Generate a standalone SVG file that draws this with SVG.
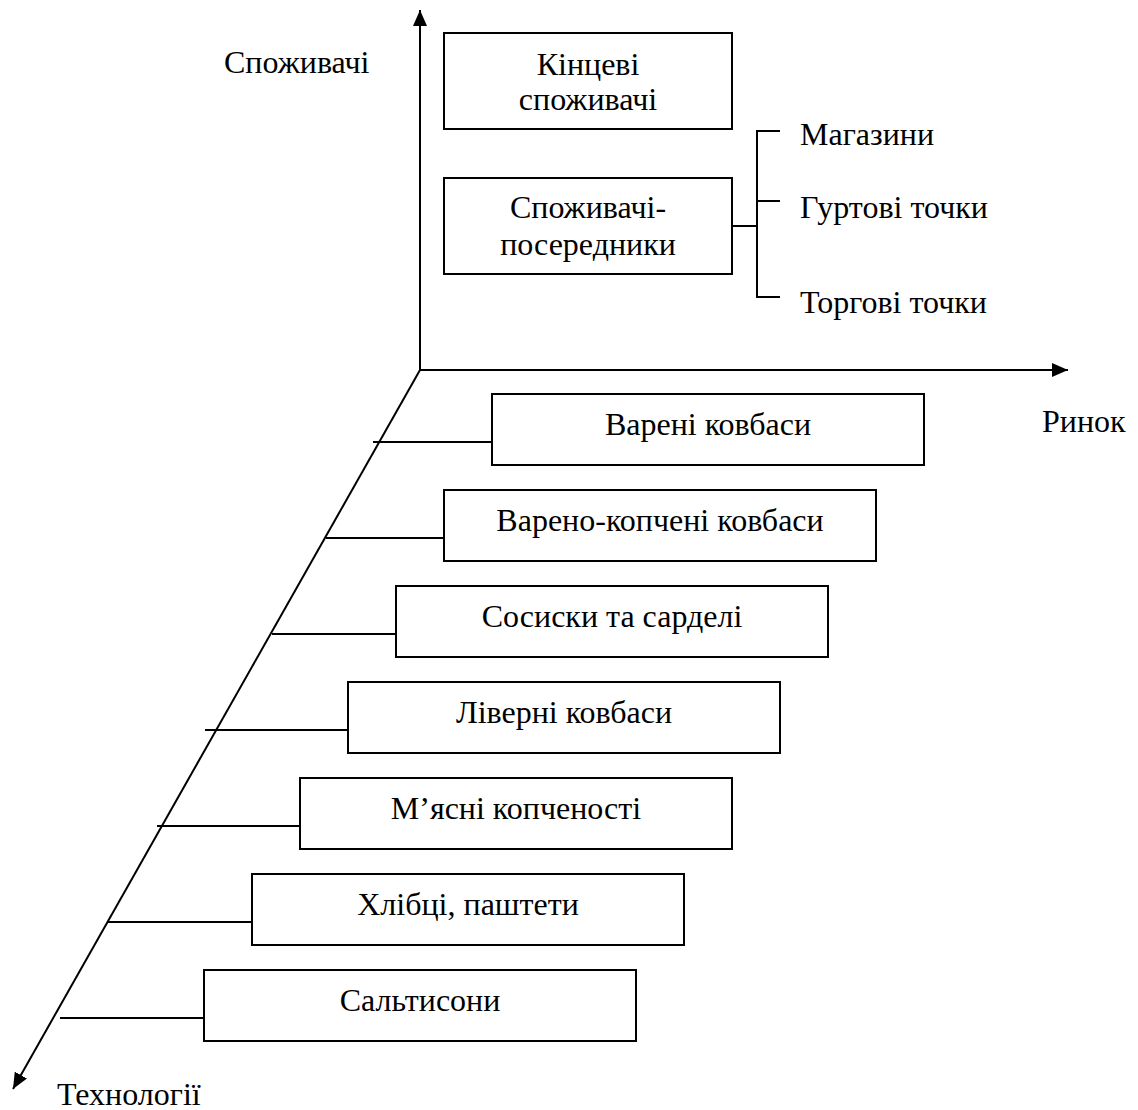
<svg xmlns="http://www.w3.org/2000/svg" width="1138" height="1110" viewBox="0 0 1138 1110">
<style>
  text { font-family: "Liberation Serif", "Times New Roman", serif; font-size: 32px; fill: #000; }
  .c { text-anchor: middle; }
  .box { fill: #fff; stroke: #000; stroke-width: 2; }
  .ln { stroke: #000; stroke-width: 2; fill: none; }
</style>
<defs>
  <marker id="arr" viewBox="0 0 16 14" refX="16" refY="7" markerWidth="16" markerHeight="14" markerUnits="userSpaceOnUse" orient="auto">
    <path d="M0,0 L16,7 L0,14 z" fill="#000"/>
  </marker>
</defs>
<rect width="1138" height="1110" fill="#fff"/>

<g id="connectors">
  <line class="ln" x1="420" y1="370" x2="420" y2="10" marker-end="url(#arr)"/>
  <line class="ln" x1="420" y1="370" x2="1068" y2="370" marker-end="url(#arr)"/>
  <line class="ln" x1="420" y1="370" x2="13" y2="1089" marker-end="url(#arr)"/>
  <line class="ln" x1="732" y1="226" x2="757" y2="226"/>
  <path class="ln" d="M780,131 H757 V297 H780 M757,201 H780"/>
  <line class="ln" x1="373" y1="442" x2="492" y2="442"/>
  <line class="ln" x1="326" y1="538" x2="444" y2="538"/>
  <line class="ln" x1="272" y1="634" x2="396" y2="634"/>
  <line class="ln" x1="205" y1="730" x2="348" y2="730"/>
  <line class="ln" x1="157" y1="826" x2="300" y2="826"/>
  <line class="ln" x1="108" y1="922" x2="252" y2="922"/>
  <line class="ln" x1="60" y1="1018" x2="204" y2="1018"/>
</g>

<g id="axis-labels">
  <text x="224" y="73">Споживачі</text>
  <text x="1042" y="432">Ринок</text>
  <text x="57" y="1105">Технології</text>
</g>

<g id="kintsevi">
  <rect class="box" x="444" y="33" width="288" height="96"/>
  <text class="c" x="588" y="75">Кінцеві</text>
  <text class="c" x="588" y="110">споживачі</text>
</g>
<g id="poserednyky">
  <rect class="box" x="444" y="178" width="288" height="96"/>
  <text class="c" x="588" y="218">Споживачі-</text>
  <text class="c" x="588" y="255">посередники</text>
</g>
<g id="mahazyny"><text x="800" y="145">Магазини</text></g>
<g id="hurtovi"><text x="800" y="218">Гуртові точки</text></g>
<g id="torhovi"><text x="800" y="313">Торгові точки</text></g>

<g id="vareni">
  <rect class="box" x="492" y="394" width="432" height="71"/>
  <text class="c" x="708" y="435">Варені ковбаси</text>
</g>
<g id="vareno-kopcheni">
  <rect class="box" x="444" y="490" width="432" height="71"/>
  <text class="c" x="660" y="531">Варено-копчені ковбаси</text>
</g>
<g id="sosysky">
  <rect class="box" x="396" y="586" width="432" height="71"/>
  <text class="c" x="612" y="627">Сосиски та сарделі</text>
</g>
<g id="liverni">
  <rect class="box" x="348" y="682" width="432" height="71"/>
  <text class="c" x="564" y="723">Ліверні ковбаси</text>
</g>
<g id="kopchenosti">
  <rect class="box" x="300" y="778" width="432" height="71"/>
  <text class="c" x="516" y="819">М’ясні копченості</text>
</g>
<g id="khlibtsi">
  <rect class="box" x="252" y="874" width="432" height="71"/>
  <text class="c" x="468" y="915">Хлібці, паштети</text>
</g>
<g id="saltysony">
  <rect class="box" x="204" y="970" width="432" height="71"/>
  <text class="c" x="420" y="1011">Сальтисони</text>
</g>
</svg>
